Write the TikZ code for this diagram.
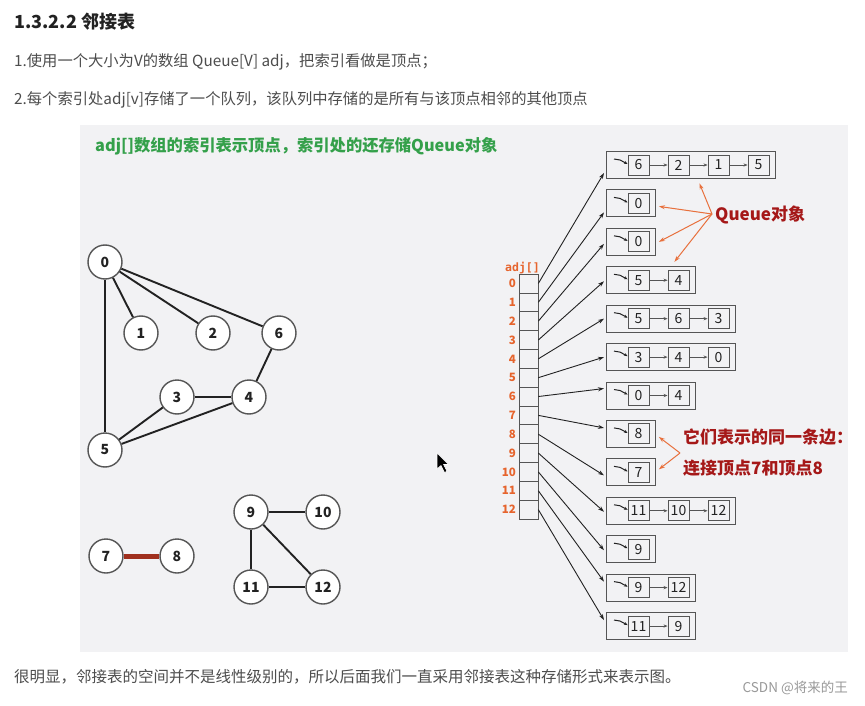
\documentclass[tikz,border=0pt]{standalone}
\usepackage{fontspec}
\setmainfont{Noto Sans CJK SC}
\newfontfamily\monof{DejaVu Sans Mono}
\usetikzlibrary{arrows.meta,calc}
\definecolor{panelbg}{HTML}{F2F2F4}
\definecolor{headc}{HTML}{222222}
\definecolor{bodyc}{HTML}{4D4D4D}
\definecolor{greenc}{RGB}{52,160,74}
\definecolor{idxc}{RGB}{230,100,45}
\definecolor{redlbl}{RGB}{165,24,24}
\definecolor{orangearr}{RGB}{232,112,60}
\definecolor{edgec}{HTML}{222222}
\definecolor{redge}{RGB}{160,48,30}
\definecolor{boxc}{HTML}{555555}
\tikzset{
  txt/.style={anchor=west, inner sep=0pt},
  vtx/.style={circle, draw=boxc, line width=1.4pt, fill=white, minimum size=34pt, inner sep=0pt, font=\bfseries\fontsize{14}{14}\selectfont, text=headc},
  gedge/.style={draw=edgec, line width=1.9pt},
  cellbox/.style={rectangle, draw=boxc, line width=0.7pt, fill=panelbg, minimum width=19pt, minimum height=18.85pt, inner sep=0pt},
  idx/.style={anchor=east, inner sep=0pt, text=idxc, font=\bfseries\fontsize{11.5}{11.5}\selectfont},
  qbox/.style={rectangle, draw=boxc, line width=0.9pt, minimum height=27pt, inner sep=0pt},
  qitem/.style={rectangle, draw=boxc, line width=0.9pt, minimum width=21pt, minimum height=20pt, inner sep=0pt, font=\fontsize{14}{14}\selectfont, text=headc, fill=panelbg},
  qarrow/.style={draw=boxc, line width=0.8pt, -{Stealth[length=4pt,width=3.2pt]}},
  conn/.style={draw=headc, line width=0.9pt, -{Stealth[length=6pt,width=4pt]}},
  oarrow/.style={draw=orangearr, line width=1pt, -{Stealth[length=6pt,width=4pt]}},
  lbl/.style={anchor=west, inner sep=0pt, text=redlbl, font=\bfseries\fontsize{17}{17}\selectfont},
}
\begin{document}
\begin{tikzpicture}[x=1pt,y=-1pt]
\useasboundingbox (0,0) rectangle (865,706);
\fill[white] (0,0) rectangle (865,706);
\fill[panelbg] (80,125) rectangle (848,652);

% header texts
\node[txt, text=headc, font=\bfseries\fontsize{18}{18}\selectfont] (title) at (14,22) {1.3.2.2 邻接表};
\node[txt, text=bodyc, font=\fontsize{15.3}{15.3}\selectfont] (line1) at (14,62) {1.使用一个大小为V的数组 Queue[V] adj，把索引看做是顶点；};
\node[txt, text=bodyc, font=\fontsize{15.3}{15.3}\selectfont] (line2) at (14,100) {2.每个索引处adj[v]存储了一个队列，该队列中存储的是所有与该顶点相邻的其他顶点};
\node[txt, text=greenc, font=\bfseries\fontsize{16.3}{16.3}\selectfont] (green) at (95,146) {adj[]数组的索引表示顶点，索引处的还存储Queue对象};

% graph
\node[vtx] (v0) at (105,262) {0};
\node[vtx] (v1) at (141,333) {1};
\node[vtx] (v2) at (213,333) {2};
\node[vtx] (v6) at (279,333) {6};
\node[vtx] (v3) at (177,397) {3};
\node[vtx] (v4) at (249,397) {4};
\node[vtx] (v5) at (105,450) {5};
\node[vtx] (v7) at (106,556) {7};
\node[vtx] (v8) at (177,556) {8};
\node[vtx] (v9) at (251,512) {9};
\node[vtx] (v10) at (323,512) {10};
\node[vtx] (v11) at (251,587) {11};
\node[vtx] (v12) at (323,587) {12};
\draw[gedge] (v0) -- (v1);
\draw[gedge] (v0) -- (v2);
\draw[gedge] (v0) -- (v6);
\draw[gedge] (v0) -- (v5);
\draw[gedge] (v6) -- (v4);
\draw[gedge] (v3) -- (v4);
\draw[gedge] (v3) -- (v5);
\draw[gedge] (v4) -- (v5);
\draw[draw=redge, line width=5pt] (v7) -- (v8);
\draw[gedge] (v9) -- (v10);
\draw[gedge] (v9) -- (v11);
\draw[gedge] (v9) -- (v12);
\draw[gedge] (v11) -- (v12);

% adj array
\node[txt, text=idxc, font=\monof\bfseries\fontsize{11.5}{11.5}\selectfont] (adjlbl) at (505,268) {adj[]};
\foreach \k in {0,...,12} {
  \node[cellbox] (c\k) at (528.5,{274+18.85*(\k+0.5)}) {};
  \node[idx] (i\k) at (516,{274+18.85*(\k+0.5)}) {\k};
}

% queues
\foreach \r/\n/\dy/\items in {0/4/8/{6,2,1,5}, 1/1/9/{0}, 2/1/2/{0}, 3/2/1/{5,4}, 4/3/0/{5,6,3}, 5/3/0/{3,4,0}, 6/2/-7/{0,4}, 7/1/-6/{8}, 8/1/3/{7}, 9/3/1/{11,10,12}, 10/1/1/{9}, 11/2/-6/{9,12}, 12/2/-6/{11,9}} {
  \pgfmathsetmacro\yy{165+38.42*\r}
  \pgfmathsetmacro\ww{49+40*(\n-1)}
  \node[qbox, minimum width=\ww pt, anchor=west] (b\r) at (606,\yy) {};
  \foreach \v [count=\i, remember=\i as \j (initially 0)] in \items {
    \node[qitem] (e\r-\i) at ({638.5+40*(\i-1)},\yy) {\v};
    \ifnum\i>1 \draw[qarrow] (e\r-\j.east) -- (e\r-\i.west); \fi
  }
  \draw[draw=headc, line width=1pt, -{Stealth[length=3.5pt,width=3pt]}] ($(b\r.west)+(8,-6)$) -- ($(b\r.west)+(14,-5)$) -- ($(e\r-1.west)+(0,-1)$);
  \draw[conn] (c\r.east) -- ($(b\r.west)+(-2,\dy)$);
}

% labels
\node[lbl] (qlabel) at (715,215) {Queue对象};
\coordinate (qs) at (712,214);
\draw[oarrow] (qs) -- ($(b0.south)+(8.5,4.5)$);
\draw[oarrow] (qs) -- ($(b1.east)+(3,3)$);
\draw[oarrow] (qs) -- ($(b2.east)+(3,0)$);
\draw[oarrow] (qs) -- ($(b3.north)+(23.5,-4.5)$);

\node[lbl] (elbl1) at (683,437) {它们表示的同一条边：};
\node[lbl] (elbl2) at (683,468) {连接顶点7和顶点8};
\coordinate (es) at (680,453);
\draw[oarrow] (es) -- ($(b7.east)+(3,3)$);
\draw[oarrow] (es) -- ($(b8.east)+(3,-3)$);

% mouse cursor
\filldraw[fill=black, draw=white, line width=0.6pt] (437,453) -- (437,469) -- (441,465.5) -- (444.5,472.5) -- (447,471.3) -- (443.6,464.5) -- (448.5,464.5) -- cycle;

% bottom text
\node[txt, text=bodyc, font=\fontsize{15.5}{15.5}\selectfont] (bottom) at (14,677) {很明显，邻接表的空间并不是线性级别的，所以后面我们一直采用邻接表这种存储形式来表示图。};
\node[anchor=east, inner sep=0pt, text=black!40, font=\fontsize{13.5}{13.5}\selectfont] (wm) at (848,688) {CSDN @将来的王};
\end{tikzpicture}
\end{document}
